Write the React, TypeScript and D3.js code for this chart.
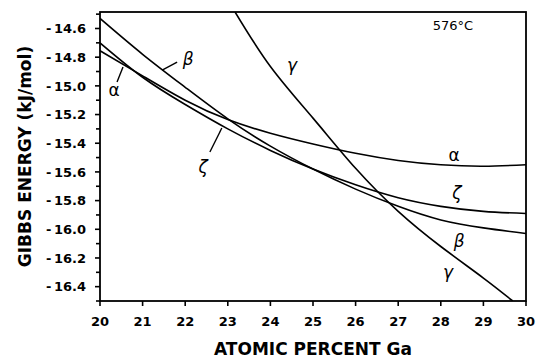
import React from "react";
import * as d3 from "d3";

const xTicks = [20, 21, 22, 23, 24, 25, 26, 27, 28, 29, 30];
const yMajor = [-14.6, -14.8, -15.0, -15.2, -15.4, -15.6, -15.8, -16.0, -16.2, -16.4];
const yMinor = [-14.5, -14.7, -14.9, -15.1, -15.3, -15.5, -15.7, -15.9, -16.1, -16.3, -16.5];

const alphaX = [20, 21, 22, 23, 24, 25, 26, 27, 28, 29, 30];
const alphaY = [-14.755, -14.93, -15.1, -15.235, -15.33, -15.405, -15.47, -15.52, -15.55, -15.56, -15.55];

const betaX = [20, 21, 22, 23, 24, 25, 26, 27, 28, 29, 30];
const betaY = [-14.53, -14.78, -15.01, -15.23, -15.42, -15.58, -15.72, -15.84, -15.935, -15.99, -16.03];

const zetaX = [20, 21, 22, 23, 24, 25, 26, 27, 28, 29, 30];
const zetaY = [-14.7, -14.94, -15.13, -15.3, -15.45, -15.58, -15.69, -15.78, -15.84, -15.875, -15.89];

const gammaX = [23.17, 24, 25, 26, 27, 28, 29, 29.69];
const gammaY = [-14.485, -14.865, -15.225, -15.575, -15.875, -16.12, -16.34, -16.5];

// curve labels
const labelText = ["α", "β", "ζ", "γ", "α", "ζ", "β", "γ"];
const labelX = [20.33, 22.07, 22.42, 24.51, 28.31, 28.38, 28.43, 28.17];
const labelY = [-15.029, -14.813, -15.566, -14.855, -15.482, -15.747, -16.082, -16.298];

// leader lines
const leaderX1 = [20.4, 21.81, 22.58];
const leaderY1 = [-14.973, -14.834, -15.461];
const leaderX2 = [20.54, 21.46, 22.86];
const leaderY2 = [-14.868, -14.89, -15.294];

const W = 538, H = 358;
const L = 100, R = 526, T = 12, B = 301;

export default function App() {
  const x = d3.scaleLinear().domain([20, 30]).range([L, R]);
  const y = d3.scaleLinear().domain([-16.5, -14.485]).range([B, T]);
  const line = d3
    .line<[number, number]>()
    .x((d) => x(d[0]))
    .y((d) => y(d[1]))
    .curve(d3.curveNatural);
  const mk = (xs: number[], ys: number[]) => line(xs.map((v, i) => [v, ys[i]] as [number, number])) || "";
  const curves = [
    mk(alphaX, alphaY),
    mk(betaX, betaY),
    mk(zetaX, zetaY),
    mk(gammaX, gammaY),
  ];
  const font = "'DejaVu Sans', sans-serif";
  return (
    <svg width={W} height={H} style={{ position: "absolute", left: 0, top: 0, background: "#fff" }}>
      <defs>
        <clipPath id="plot">
          <rect x={L} y={T} width={R - L} height={B - T} />
        </clipPath>
      </defs>
      <rect x={0} y={0} width={W} height={H} fill="#fff" />
      <g clipPath="url(#plot)">
        {curves.map((d, i) => (
          <path key={i} d={d} fill="none" stroke="#000" strokeWidth={1.6} />
        ))}
      </g>
      <rect x={L} y={T} width={R - L} height={B - T} fill="none" stroke="#000" strokeWidth={1.8} />
      {xTicks.map((t) => (
        <g key={"x" + t}>
          <line x1={x(t)} x2={x(t)} y1={B} y2={B + 5} stroke="#000" strokeWidth={1.6} />
          <text x={x(t)} y={326} textAnchor="middle" fontFamily={font} fontWeight="bold" fontSize={13}>
            {t}
          </text>
        </g>
      ))}
      {yMajor.map((t) => (
        <g key={"y" + t}>
          <line x1={L - 5} x2={L} y1={y(t)} y2={y(t)} stroke="#000" strokeWidth={1.6} />
          <text x={86} y={y(t)} dy="0.36em" textAnchor="end" fontFamily={font} fontWeight="bold" fontSize={13}>
            {"-\u2009" + Math.abs(t).toFixed(1)}
          </text>
        </g>
      ))}
      {yMinor.map((t) => (
        <line key={"m" + t} x1={L - 4} x2={L} y1={y(t)} y2={y(t)} stroke="#000" strokeWidth={1.6} />
      ))}
      <text x={(L + R) / 2} y={355} textAnchor="middle" fontFamily={font} fontWeight="bold" fontSize={17}>
        ATOMIC PERCENT Ga
      </text>
      <text
        transform={`translate(31, ${(T + B) / 2}) rotate(-90)`}
        textAnchor="middle"
        fontFamily={font}
        fontWeight="bold"
        fontSize={17}
      >
        GIBBS ENERGY (kJ/mol)
      </text>
      <text x={453} y={30} textAnchor="middle" fontFamily={font} fontSize={13}>
        576°C
      </text>
      {labelText.map((s, i) => (
        <text
          key={"l" + i}
          x={x(labelX[i])}
          y={y(labelY[i])}
          dy="0.35em"
          textAnchor="middle"
          fontFamily={font}
          fontStyle={s === "α" ? "normal" : "italic"}
          fontSize={17}
        >
          {s}
        </text>
      ))}
      {leaderX1.map((v, i) => (
        <line
          key={"ld" + i}
          x1={x(v)}
          y1={y(leaderY1[i])}
          x2={x(leaderX2[i])}
          y2={y(leaderY2[i])}
          stroke="#000"
          strokeWidth={1.4}
        />
      ))}
    </svg>
  );
}
